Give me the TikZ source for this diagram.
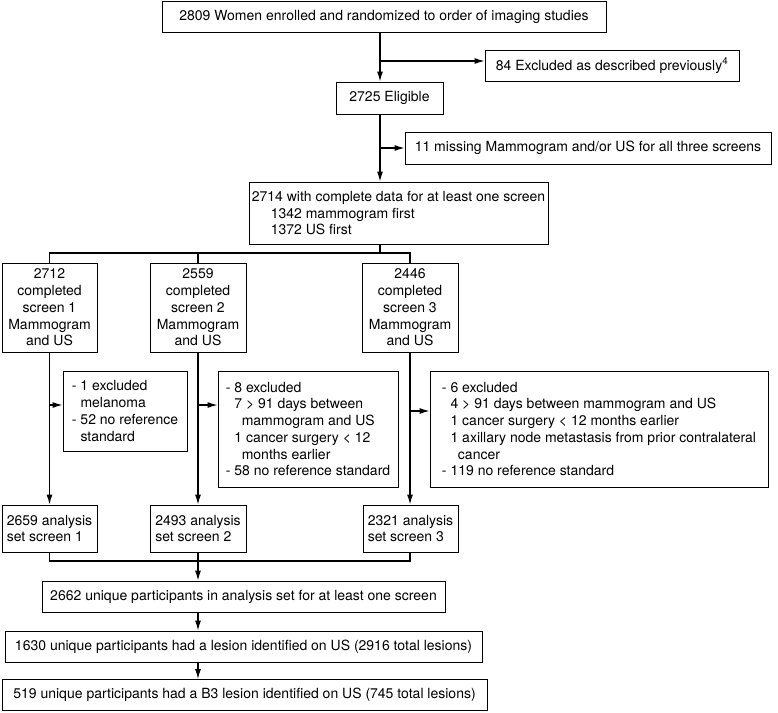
\documentclass[tikz,border=0pt]{standalone}
\usepackage{fontspec}
\setmainfont{TeX Gyre Heros}
\usetikzlibrary{arrows.meta}

\newcommand{\lvlone}{\hspace*{8.6pt}}
\newcommand{\lvltwo}{\hspace*{16pt}}

\tikzset{
	box/.style={draw, line width=0.9pt, inner sep=0pt, align=center, font=\fontsize{14}{16.7}\selectfont},
	listbox/.style={box, align=left},
	flow/.style={line width=1.2pt, -{Latex[length=10pt,width=6pt]}},
	link/.style={line width=1.2pt},
}

\begin{document}
\begin{tikzpicture}[x=1pt,y=1pt]
	\useasboundingbox (0,0) rectangle (778,-712);

	%% ENROLMENT
	\node[box, minimum width=444pt, minimum height=31pt](enrolled) at (384,-16.5){2809 Women enrolled and randomized to order of imaging studies};
	\node[box, minimum width=254pt, minimum height=31pt](excl_prev) at (612,-65.5){84 Excluded as described previously\textsuperscript{4}};
	\node[box, minimum width=107pt, minimum height=32pt](eligible) at (389.5,-98){2725 Eligible};
	\node[box, minimum width=366pt, minimum height=32pt](missing) at (588,-148){11 missing Mammogram and/or US for all three screens};
	\node[listbox, minimum width=299pt, minimum height=62pt](complete) at (398.5,-213){2714 with complete data for at least one screen\\
		\hspace*{19pt}1342 mammogram first\\
		\hspace*{19pt}1372 US first};

	\coordinate (spine) at (380,-16);
	\coordinate (fork_prev) at (380,-61);
	\coordinate (fork_missing) at (380,-148);
	\coordinate (split) at (380,-253);

	\draw[flow] (enrolled.south -| spine) -- (eligible.north -| spine);
	\draw[flow] (fork_prev) -- (fork_prev -| excl_prev.west);
	\draw[flow] (eligible.south -| spine) -- (complete.north -| spine);
	\draw[flow] (fork_missing) -- (fork_missing -| missing.west);

	%% SCREENS
	\node[box, minimum width=95pt, minimum height=89pt](screen_1) at (49.5,-307.5){2712\\completed\\screen 1\\Mammogram\\and US};
	\node[box, minimum width=96pt, minimum height=89pt](screen_2) at (198,-307.5){2559\\completed\\screen 2\\Mammogram\\and US};
	\node[box, minimum width=96pt, minimum height=89pt](screen_3) at (410,-307.5){2446\\completed\\screen 3\\Mammogram\\and US};

	\draw[link] (complete.south -| spine) -- (split);
	\draw[link] (screen_1.north) |- (split) -| (screen_3.north);
	\draw[link] (split -| screen_2.north) -- (screen_2.north);

	%% EXCLUSIONS PER SCREEN
	\node[listbox, minimum width=124pt, minimum height=80pt](excl_1) at (125,-411){- 1 excluded\\
		\lvlone melanoma\\
		- 52 no reference\\
		\lvlone standard};
	\node[listbox, minimum width=180pt, minimum height=116pt](excl_2) at (308,-429){- 8 excluded\\
		\lvlone 7 > 91 days between\\
		\lvltwo mammogram and US\\
		\lvlone 1 cancer surgery < 12\\
		\lvltwo months earlier\\
		- 58 no reference standard};
	\node[listbox, minimum width=338pt, minimum height=116pt](excl_3) at (599,-429){- 6 excluded\\
		\lvlone 4 > 91 days between mammogram and US\\
		\lvlone 1 cancer surgery < 12 months earlier\\
		\lvlone 1 axillary node metastasis from prior contralateral\\
		\lvltwo cancer\\
		- 119 no reference standard};

	%% ANALYSIS SETS
	\node[box, align=left, minimum width=95pt, minimum height=47pt](set_1) at (49.5,-528.5){2659 analysis\\set screen 1};
	\node[box, align=left, minimum width=96pt, minimum height=47pt](set_2) at (198,-528.5){2493 analysis\\set screen 2};
	\node[box, align=left, minimum width=95pt, minimum height=47pt](set_3) at (410.5,-528.5){2321 analysis\\set screen 3};

	\coordinate (fork_1) at (screen_1.south |- 0,-405);
	\coordinate (fork_2) at (screen_2.south |- 0,-405);
	\coordinate (fork_3) at (screen_3.south |- 0,-411);

	\draw[flow] (screen_1.south) -- (set_1.north -| screen_1.south);
	\draw[flow] (screen_2.south) -- (set_2.north -| screen_2.south);
	\draw[flow] (screen_3.south) -- (set_3.north -| screen_3.south);
	\draw[flow] (fork_1) -- (fork_1 -| excl_1.west);
	\draw[flow] (fork_2) -- (fork_2 -| excl_2.west);
	\draw[flow] (fork_3) -- (fork_3 -| excl_3.west);

	%% PARTICIPANTS AND LESIONS
	\node[box, minimum width=403pt, minimum height=31pt](unique) at (243.5,-596.5){2662 unique participants in analysis set for at least one screen};
	\node[box, minimum width=477pt, minimum height=31pt](lesion) at (243.5,-646.5){1630 unique participants had a lesion identified on US (2916 total lesions)};
	\node[box, minimum width=485pt, minimum height=31pt](lesion_b3) at (244.5,-695){519 unique participants had a B3 lesion identified on US (745 total lesions)};

	\coordinate (merge) at (set_2.south |- 0,-561);

	\draw[link] (set_1.south -| screen_1.south) |- (merge) -| (set_3.south -| screen_3.south);
	\draw[link] (set_2.south) -- (merge);
	\draw[flow] (merge) -- (unique.north -| merge);
	\draw[flow] (unique.south -| merge) -- (lesion.north -| merge);
	\draw[flow] (lesion.south -| merge) -- (lesion_b3.north -| merge);

\end{tikzpicture}
\end{document}
